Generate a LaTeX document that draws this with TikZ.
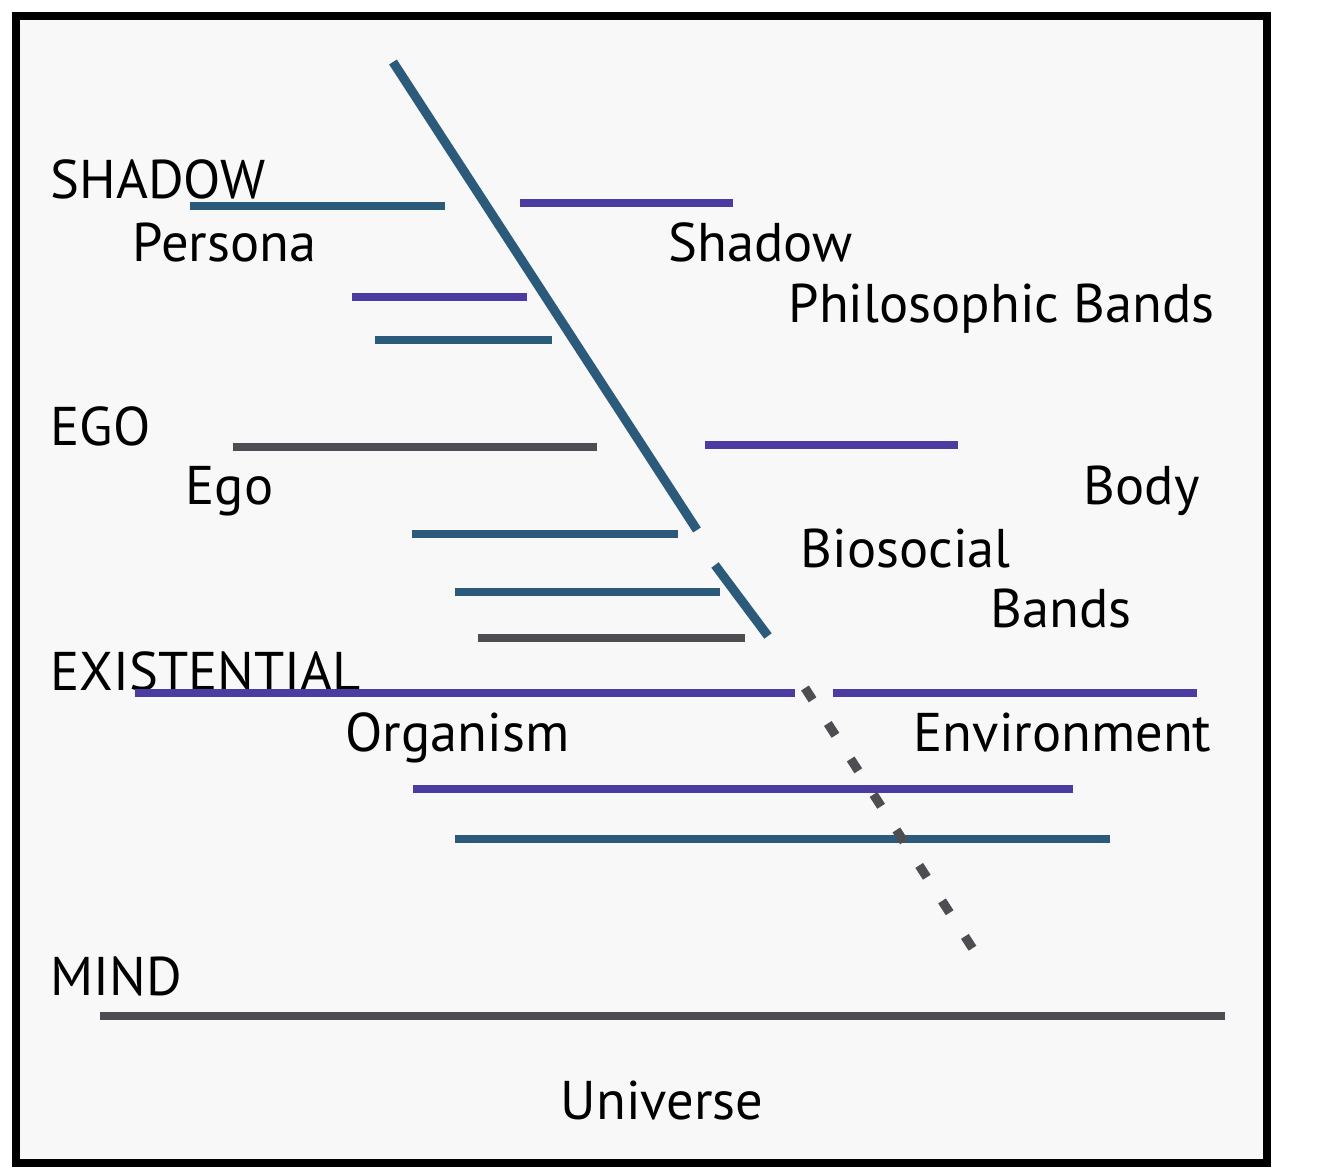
\documentclass[tikz,border=0pt]{standalone}
\usepackage{fontspec}
\setmainfont{PT Sans}
\usetikzlibrary{positioning}

\definecolor{bandteal}{RGB}{44,90,122}
\definecolor{bandpurple}{RGB}{74,60,160}
\definecolor{bandgray}{RGB}{78,78,82}
\definecolor{paper}{RGB}{248,248,248}

\begin{document}
\begin{tikzpicture}[
  x=0.01cm, y=-0.01cm,
  lbl/.style={anchor=base west, inner sep=0pt, font=\fontsize{15.5}{18}\selectfont},
  band/.style={line width=2.4pt},
  teal/.style={band, draw=bandteal},
  purple/.style={band, draw=bandpurple},
  gray/.style={band, draw=bandgray},
  cut/.style={line width=2.6pt, draw=bandteal},
  gap/.style={line width=2.6pt, draw=bandgray, dash pattern=on 4pt off 8pt}
]
  \useasboundingbox (0,0) rectangle (1338,1172);
  % frame
  \draw[line width=2.5pt, fill=paper] (16,16) rectangle (1267,1163);

  % level labels
  \node[lbl] (shadowlvl) at (50,198) {SHADOW};
  \node[lbl] (egolvl) at (50,445) {EGO};
  \node[lbl] (existlvl) at (50,690) {EXISTENTIAL};
  \node[lbl] (mindlvl) at (50,995) {MIND};

  % band labels
  \node[lbl] (persona) at (132,261) {Persona};
  \node[lbl] (shadow) at (668,261) {Shadow};
  \node[lbl] (philo) at (788,322) {Philosophic Bands};
  \node[lbl] (ego) at (185,504) {Ego};
  \node[lbl] (body) at (1083,504) {Body};
  \node[lbl] (biosocial) at (800,567) {Biosocial};
  \node[lbl] (bands) at (990,627) {Bands};
  \node[lbl] (organism) at (345,751) {Organism};
  \node[lbl] (environ) at (913,751) {Environment};
  \node[lbl] (universe) at (560,1119) {Universe};

  % bands
  \draw[teal] (190,206) -- (445,206);
  \draw[purple] (520,203) -- (733,203);
  \draw[purple] (352,297) -- (527,297);
  \draw[teal] (375,340) -- (552,340);
  \draw[gray] (233,447) -- (597,447);
  \draw[purple] (705,445) -- (958,445);
  \draw[teal] (412,534) -- (678,534);
  \draw[teal] (455,592) -- (720,592);
  \draw[gray] (478,638) -- (745,638);
  \draw[purple] (135,693) -- (795,693);
  \draw[purple] (833,693) -- (1197,693);
  \draw[purple] (413,789) -- (1073,789);
  \draw[teal] (455,839) -- (1110,839);
  \draw[gray] (100,1016) -- (1225,1016);

  % dividing line
  \draw[cut] (393,62) -- (697,530);
  \draw[cut] (715,565) -- (768,636);
  \draw[gap] (805,688) -- (982,963);
\end{tikzpicture}
\end{document}
